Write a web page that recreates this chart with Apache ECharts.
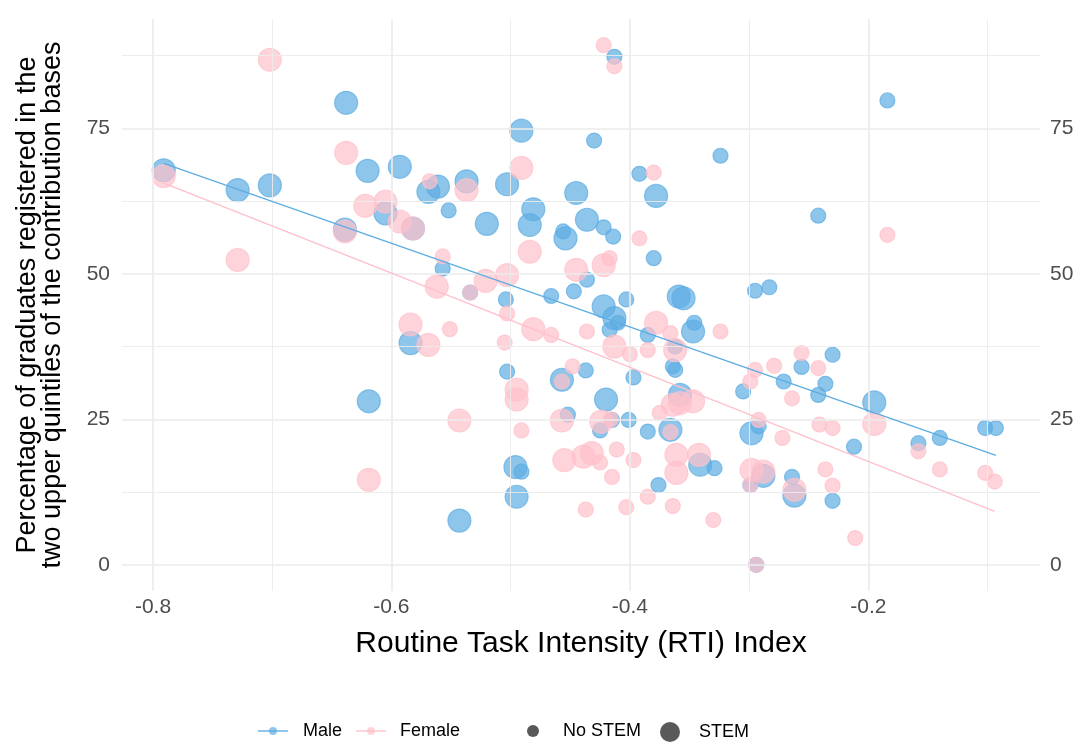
<!DOCTYPE html>
<html>
<head>
<meta charset="utf-8">
<script src="https://cdn.jsdelivr.net/npm/echarts@6/dist/echarts.min.js"></script>
<style>
  html, body { margin: 0; padding: 0; background: #fff; }
  #chart { width: 1082px; height: 749px; }
</style>
</head>
<body>
<div id="chart"></div>
<script>
// --- data ---
// male points: RTI index, share in top quintiles, STEM (1) / no STEM (0)
const maleX = [-0.791, -0.729, -0.702, -0.638, -0.620, -0.593, -0.639, -0.605, -0.582, -0.569,
  -0.561, -0.537, -0.552, -0.520, -0.503, -0.491, -0.430, -0.413, -0.481, -0.484,
  -0.445, -0.436, -0.422, -0.414, -0.454, -0.456, -0.436, -0.557, -0.534, -0.504,
  -0.466, -0.447, -0.584, -0.619, -0.324, -0.392, -0.378, -0.380, -0.295, -0.283,
  -0.422, -0.413, -0.410, -0.417, -0.403, -0.359, -0.355, -0.347, -0.346, -0.385,
  -0.364, -0.362, -0.397, -0.420, -0.401, -0.385, -0.366, -0.358, -0.376, -0.341,
  -0.329, -0.305, -0.271, -0.256, -0.230, -0.236, -0.242, -0.195, -0.212, -0.158,
  -0.140, -0.102, -0.093, -0.230, -0.294, -0.262, -0.264, -0.288, -0.299, -0.298,
  -0.292, -0.543, -0.496, -0.491, -0.495, -0.503, -0.457, -0.452, -0.425, -0.437,
  -0.242, -0.184, -0.415, -0.362];
const maleY = [67.8, 64.4, 65.2, 79.4, 67.7, 68.4, 57.6, 60.4, 57.8, 64.1,
  65.0, 65.9, 60.9, 58.6, 65.4, 74.6, 72.9, 87.3, 61.1, 58.4,
  63.9, 59.3, 58.0, 56.4, 56.1, 57.3, 49.0, 50.9, 46.8, 45.6,
  46.2, 47.0, 38.1, 28.1, 70.3, 67.2, 63.4, 52.7, 47.1, 47.7,
  44.4, 42.4, 41.6, 40.4, 45.6, 46.1, 45.8, 40.1, 41.6, 39.5,
  34.1, 33.5, 32.2, 28.4, 24.9, 22.9, 23.2, 29.2, 13.7, 17.2,
  16.6, 29.8, 31.5, 34.0, 36.1, 31.1, 29.2, 27.9, 20.3, 20.9,
  21.8, 23.5, 23.5, 11.0, 0.0, 11.9, 15.1, 15.3, 13.7, 22.6,
  23.8, 7.6, 16.8, 16.0, 11.7, 33.2, 31.8, 25.8, 23.1, 33.4,
  60.0, 79.8, 24.9, 37.5];
const maleStem = [1, 1, 1, 1, 1, 1, 1, 1, 1, 1,
  1, 1, 0, 1, 1, 1, 0, 0, 1, 1,
  1, 1, 0, 0, 1, 0, 0, 0, 0, 0,
  0, 0, 1, 1, 0, 0, 1, 0, 0, 0,
  1, 1, 0, 0, 0, 1, 1, 1, 0, 0,
  0, 0, 0, 1, 0, 0, 1, 1, 0, 1,
  0, 0, 0, 0, 0, 0, 0, 1, 0, 0,
  0, 0, 0, 0, 0, 1, 0, 1, 0, 1,
  0, 1, 1, 0, 1, 0, 1, 0, 0, 0,
  0, 0, 0, 0];

// female points
const femaleX = [-0.791, -0.702, -0.638, -0.622, -0.605, -0.639, -0.729, -0.593, -0.582, -0.568,
  -0.537, -0.491, -0.484, -0.422, -0.413, -0.445, -0.422, -0.417, -0.557, -0.562,
  -0.534, -0.521, -0.503, -0.503, -0.481, -0.466, -0.505, -0.584, -0.569, -0.551,
  -0.619, -0.380, -0.392, -0.378, -0.366, -0.324, -0.436, -0.413, -0.385, -0.400,
  -0.362, -0.358, -0.347, -0.364, -0.375, -0.411, -0.397, -0.415, -0.385, -0.403,
  -0.364, -0.330, -0.361, -0.361, -0.342, -0.299, -0.295, -0.279, -0.256, -0.242,
  -0.264, -0.195, -0.241, -0.230, -0.158, -0.140, -0.102, -0.094, -0.236, -0.230,
  -0.211, -0.294, -0.262, -0.298, -0.288, -0.299, -0.292, -0.272, -0.543, -0.491,
  -0.495, -0.495, -0.457, -0.448, -0.457, -0.455, -0.439, -0.432, -0.425, -0.437,
  -0.424, -0.416, -0.184, -0.366];
const femaleY = [66.8, 86.8, 70.8, 61.7, 62.4, 57.3, 52.4, 59.0, 57.8, 65.9,
  64.4, 68.2, 53.8, 89.3, 85.7, 50.7, 51.5, 52.7, 53.0, 47.8,
  46.8, 48.8, 49.8, 43.2, 40.5, 39.5, 38.2, 41.3, 37.8, 40.5,
  14.6, 67.4, 56.1, 41.6, 39.8, 40.1, 40.1, 37.5, 36.9, 36.2,
  36.9, 27.8, 28.1, 27.5, 26.1, 19.8, 18.0, 15.1, 11.7, 9.9,
  10.1, 7.7, 18.9, 15.8, 18.9, 31.5, 33.5, 34.2, 36.4, 33.8,
  28.6, 24.2, 24.1, 23.5, 19.5, 16.4, 15.8, 14.3, 16.4, 13.6,
  4.6, 0.0, 12.9, 16.3, 16.0, 13.7, 24.9, 21.8, 24.8, 23.1,
  30.1, 28.4, 31.5, 34.1, 24.8, 18.0, 18.6, 19.2, 17.6, 9.5,
  24.6, 25.0, 56.7, 22.8];
const femaleStem = [1, 1, 1, 1, 1, 1, 1, 1, 1, 0,
  1, 1, 1, 0, 0, 1, 1, 0, 0, 1,
  0, 1, 1, 0, 1, 0, 0, 1, 1, 0,
  1, 0, 0, 1, 0, 0, 0, 1, 0, 0,
  1, 1, 1, 1, 0, 0, 0, 0, 0, 0,
  0, 0, 1, 1, 1, 0, 0, 0, 0, 0,
  0, 1, 0, 0, 0, 0, 0, 0, 0, 0,
  0, 0, 1, 1, 1, 0, 0, 0, 1, 0,
  1, 1, 0, 0, 1, 1, 1, 1, 0, 0,
  1, 0, 0, 0];

// fitted lines (end points)
const maleFitX = [-0.791, -0.093];
const maleFitY = [69.0, 18.8];
const femaleFitX = [-0.791, -0.094];
const femaleFitY = [65.6, 9.2];

// ticks and grid
const xMajor = [-0.8, -0.6, -0.4, -0.2];
const xMinor = [-0.7, -0.5, -0.3, -0.1];
const yMajor = [0, 25, 50, 75];
const yMinor = [12.5, 37.5, 62.5, 87.5];

const FONT = "'Liberation Sans', Arial, Helvetica, sans-serif";
const BLUE = '#5DADE2';
const PINK = '#FFC0CB';
const SMALL = 15, BIG = 23;

function points(xs, ys, stem) {
  return xs.map((x, i) => [x, ys[i], stem[i]]);
}
function fit(xs, ys) {
  return xs.map((x, i) => [x, ys[i]]);
}

const gridData = [].concat(
  xMinor.map(v => ({ xAxis: v, lineStyle: { width: 0.9 } })),
  yMinor.map(v => ({ yAxis: v, lineStyle: { width: 0.9 } })),
  xMajor.map(v => ({ xAxis: v, lineStyle: { width: 1.7 } })),
  yMajor.map(v => ({ yAxis: v, lineStyle: { width: 1.7 } }))
);

const yLabel = { customValues: yMajor, color: '#4d4d4d', fontSize: 21, fontFamily: FONT };

const chart = echarts.init(document.getElementById('chart'));

const legendBase = {
  top: 722, padding: 0, selectedMode: false,
  textStyle: { fontSize: 18, color: '#000', fontFamily: FONT }
};

chart.setOption({
  animation: false,
  backgroundColor: '#fff',
  grid: { left: 122, right: 42, top: 19, bottom: 158 },
  legend: [
    Object.assign({}, legendBase, { data: ['Male'], left: 257, itemWidth: 30, itemHeight: 10,
      lineStyle: { opacity: 0.7 }, itemStyle: { opacity: 0.7 },
      textStyle: Object.assign({}, legendBase.textStyle, { padding: [0, 0, 0, 10] }) }),
    Object.assign({}, legendBase, { data: ['Female'], left: 355, itemWidth: 30, itemHeight: 10,
      lineStyle: { opacity: 0.7 }, itemStyle: { opacity: 0.7 },
      textStyle: Object.assign({}, legendBase.textStyle, { padding: [0, 0, 0, 9] }) }),
    Object.assign({}, legendBase, { data: ['No STEM'], left: 527, icon: 'circle', itemWidth: 12, itemHeight: 12,
      textStyle: Object.assign({}, legendBase.textStyle, { padding: [0, 0, 0, 19] }) }),
    Object.assign({}, legendBase, { data: ['STEM'], left: 660, icon: 'circle', itemWidth: 20, itemHeight: 20,
      textStyle: Object.assign({}, legendBase.textStyle, { padding: [0, 0, 0, 14] }) })
  ],
  xAxis: {
    type: 'value', min: -0.826, max: -0.056,
    axisLine: { show: false }, axisTick: { show: false }, splitLine: { show: false },
    axisLabel: { customValues: xMajor, color: '#4d4d4d', fontSize: 21, margin: 6, fontFamily: FONT },
    name: 'Routine Task Intensity (RTI) Index', nameLocation: 'middle', nameGap: 38,
    nameTextStyle: { fontSize: 30, color: '#000', fontFamily: FONT }
  },
  yAxis: [
    {
      type: 'value', min: -4.5, max: 93.8,
      axisLine: { show: false }, axisTick: { show: false }, splitLine: { show: false },
      axisLabel: Object.assign({ margin: 12 }, yLabel),
      name: 'Percentage of graduates registered in the\ntwo upper quintiles of the contribution bases',
      nameLocation: 'middle', nameRotate: 90, nameGap: 57,
      nameTextStyle: { fontSize: 27, lineHeight: 25, color: '#000', fontFamily: FONT }
    },
    {
      type: 'value', min: -4.5, max: 93.8, position: 'right',
      axisLine: { show: false }, axisTick: { show: false }, splitLine: { show: false },
      axisLabel: Object.assign({ margin: 10 }, yLabel)
    }
  ],
  series: [
    {
      name: 'grid', type: 'line', data: [], silent: true, z: 0,
      markLine: {
        silent: true, symbol: ['none', 'none'], label: { show: false },
        lineStyle: { color: '#ebebeb', type: 'solid' },
        emphasis: { disabled: true },
        data: gridData
      }
    },
    {
      name: 'Male points', type: 'scatter', z: 2,
      data: points(maleX, maleY, maleStem),
      symbolSize: d => d[2] ? BIG : SMALL,
      itemStyle: { color: BLUE, opacity: 0.7, borderColor: BLUE, borderWidth: 1.2 },
      emphasis: { disabled: true }
    },
    {
      name: 'Female points', type: 'scatter', z: 2,
      data: points(femaleX, femaleY, femaleStem),
      symbolSize: d => d[2] ? BIG : SMALL,
      itemStyle: { color: PINK, opacity: 0.7, borderColor: PINK, borderWidth: 1.2 },
      emphasis: { disabled: true }
    },
    {
      name: 'Male', type: 'line', z: 5, data: fit(maleFitX, maleFitY),
      symbol: 'circle', showSymbol: false,
      lineStyle: { color: BLUE, width: 1.4 }, itemStyle: { color: BLUE },
      emphasis: { disabled: true }
    },
    {
      name: 'Female', type: 'line', z: 5, data: fit(femaleFitX, femaleFitY),
      symbol: 'circle', showSymbol: false,
      lineStyle: { color: PINK, width: 1.4 }, itemStyle: { color: PINK },
      emphasis: { disabled: true }
    },
    { name: 'No STEM', type: 'scatter', data: [], itemStyle: { color: '#000', opacity: 0.65 } },
    { name: 'STEM', type: 'scatter', data: [], itemStyle: { color: '#000', opacity: 0.65 } }
  ]
});
</script>
</body>
</html>
